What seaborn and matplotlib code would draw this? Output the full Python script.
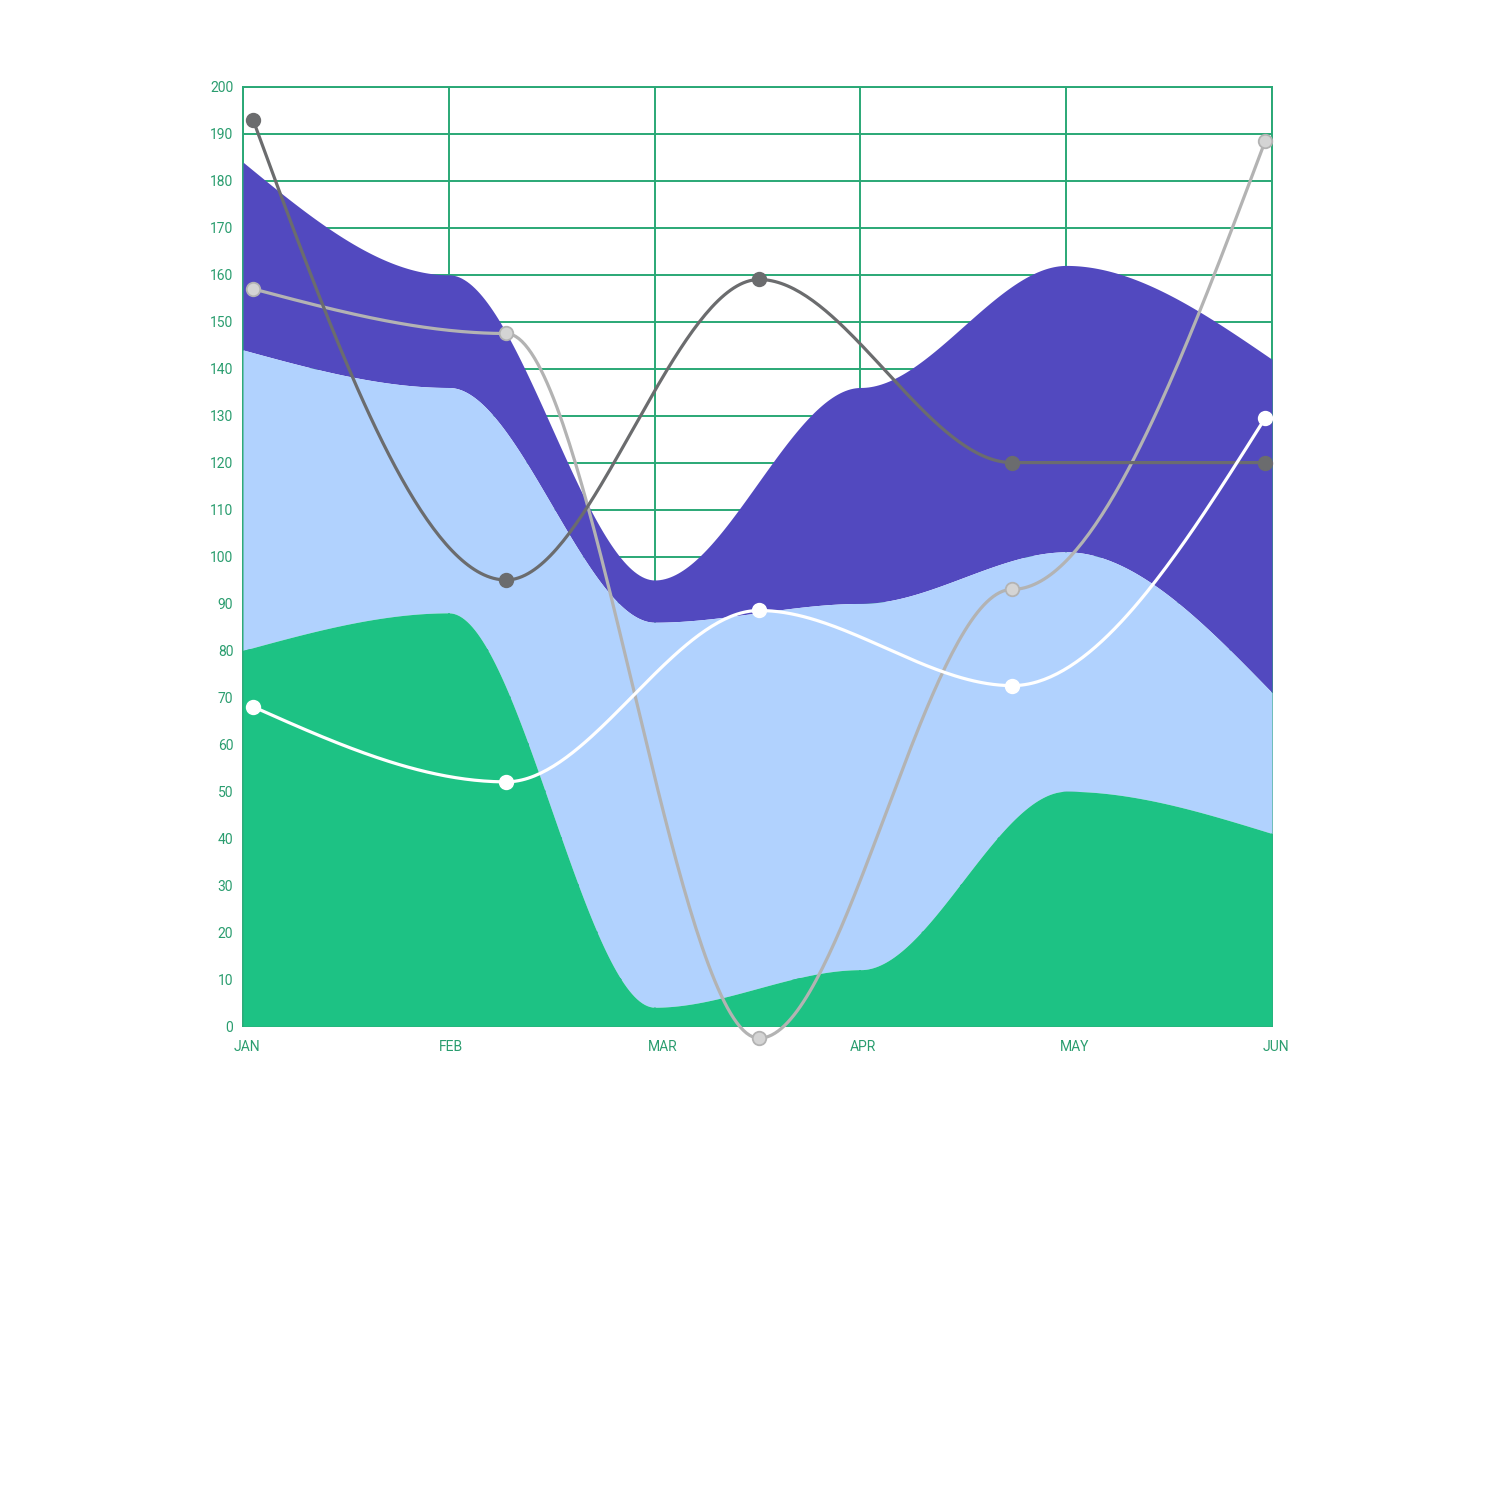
import numpy as np
import pandas as pd
import matplotlib
matplotlib.use("Agg")
import matplotlib.pyplot as plt
import matplotlib.transforms as mtransforms
import seaborn as sns

# ---- data ----
months = ["JAN", "FEB", "MAR", "APR", "MAY", "JUN"]
green_vals = [80, 88, 4, 12, 50, 41]
blue_vals = [64, 48, 82, 78, 51, 30]
purple_vals = [40, 24, 9, 46, 61, 71]

dark_line = [193, 95, 159, 120, 120]
light_line = [157, 147.5, -2.6, 93, 188.5]
white_line = [68, 52, 88.5, 72.5, 129.5]

GREEN = "#1DC284"
LBLUE = "#B1D2FE"
PURPLE = "#5249BF"
GRID = "#2AA876"
TEXT = "#2A9D6F"


def smooth(x, y, n=80):
    """Cubic Hermite: flat tangents at interior points, free ends."""
    x = np.asarray(x, float)
    y = np.asarray(y, float)
    m = len(x)
    h = np.diff(x)
    s = np.diff(y) / h
    t = np.zeros(m)
    t[0] = (3 * s[0] - t[1]) / 2
    t[-1] = (3 * s[-1] - t[-2]) / 2
    xs, ys = [], []
    for i in range(m - 1):
        u = np.linspace(0, 1, n, endpoint=(i == m - 2))
        dx = h[i]
        h00 = 2 * u**3 - 3 * u**2 + 1
        h10 = u**3 - 2 * u**2 + u
        h01 = -2 * u**3 + 3 * u**2
        h11 = u**3 - u**2
        xs.append(x[i] + u * dx)
        ys.append(h00 * y[i] + h10 * dx * t[i] + h01 * y[i + 1] + h11 * dx * t[i + 1])
    return np.concatenate(xs), np.concatenate(ys)


sns.set_theme(style="white")
plt.rcParams["font.family"] = ["Roboto", "DejaVu Sans"]

fig = plt.figure(figsize=(15, 15), dpi=100)
ax = fig.add_axes([243 / 1500, 1 - 1026 / 1500, 1029 / 1500, 939 / 1500])

xpos = np.arange(len(months))
g_top = np.array(green_vals, float)
b_top = g_top + np.array(blue_vals, float)
p_top = b_top + np.array(purple_vals, float)

xs, g_s = smooth(xpos, g_top)
_, b_s = smooth(xpos, b_top)
_, p_s = smooth(xpos, p_top)

ax.fill_between(xs, b_s, p_s, color=PURPLE, lw=0, zorder=2)
ax.fill_between(xs, g_s, b_s, color=LBLUE, lw=0, zorder=2)
ax.fill_between(xs, 0, g_s, color=GREEN, lw=0, zorder=2)

# lines on their own point positions
line_pos = 0.049 + np.arange(len(dark_line)) * 1.2295
series = [("light", light_line), ("dark", dark_line), ("white", white_line)]
rows = []
for name, vals in series:
    lx, ly = smooth(line_pos, vals)
    rows.append(pd.DataFrame({"x": lx, "y": ly, "s": name}))
curves = pd.concat(rows, ignore_index=True)
pts = pd.concat([pd.DataFrame({"x": line_pos, "y": v, "s": n}) for n, v in series],
                ignore_index=True)

line_colors = {"light": "#B3B3B3", "dark": "#6B6C6E", "white": "#FFFFFF"}
fill_colors = {"light": "#D4D4D4", "dark": "#6B6C6E", "white": "#FFFFFF"}
for name, _ in series:
    d = curves[curves.s == name]
    sns.lineplot(data=d, x="x", y="y", ax=ax, color=line_colors[name], lw=2.3,
                 sort=False, estimator=None, zorder=4, clip_on=False, legend=False)
    p = pts[pts.s == name]
    sns.scatterplot(data=p, x="x", y="y", ax=ax, color=fill_colors[name], s=95,
                    edgecolor=line_colors[name], linewidth=1.3, zorder=5,
                    clip_on=False, legend=False)

ax.set_xlim(0, 5)
ax.set_ylim(0, 200)
ax.set_yticks(np.arange(0, 201, 10))
ax.set_xticks(xpos)
ax.set_xticklabels(months)
ax.set_xlabel("")
ax.set_ylabel("")
ax.grid(True, color=GRID, lw=1.4, zorder=0)
ax.set_axisbelow(True)
for sp in ax.spines.values():
    sp.set_color(GRID)
    sp.set_linewidth(1.4)
    sp.set_zorder(1)
ax.tick_params(axis="both", length=0, labelsize=10, colors=TEXT)
ax.tick_params(axis="y", pad=7)
ax.tick_params(axis="x", pad=10)
label_nudge_px = [4, 2, 8, 2, 8, 4]
for lab, dpx in zip(ax.get_xticklabels(), label_nudge_px):
    lab.set_horizontalalignment("center")
    lab.set_transform(lab.get_transform()
                      + mtransforms.ScaledTranslation(dpx / 100, 0, fig.dpi_scale_trans))

fig.savefig("out.png", dpi=100, facecolor="white")
